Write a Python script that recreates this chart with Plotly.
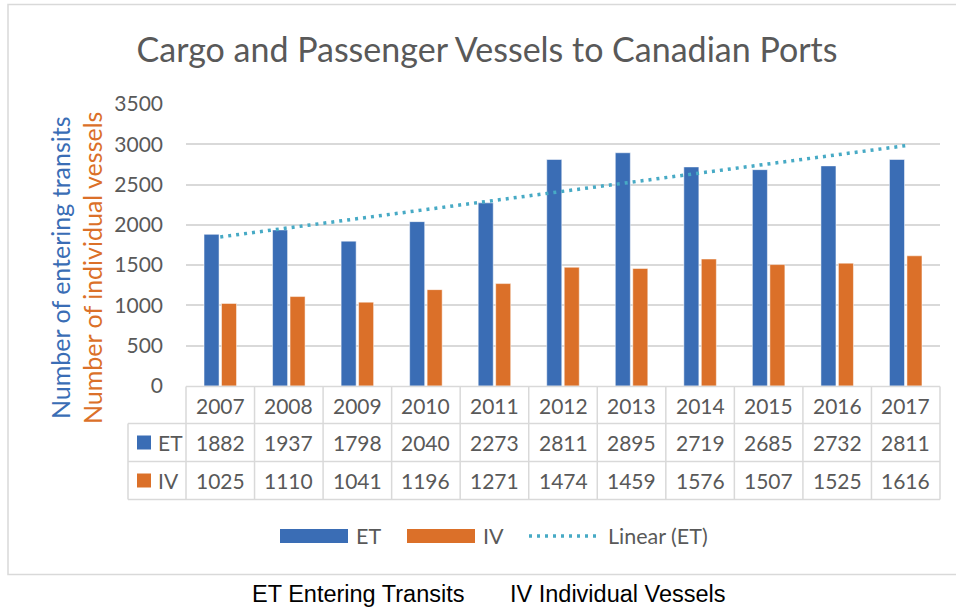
import numpy as np
import plotly.graph_objects as go

years = ["2007", "2008", "2009", "2010", "2011", "2012", "2013", "2014", "2015", "2016", "2017"]
et_values = [1882, 1937, 1798, 2040, 2273, 2811, 2895, 2719, 2685, 2732, 2811]
iv_values = [1025, 1110, 1041, 1196, 1271, 1474, 1459, 1576, 1507, 1525, 1616]
series_names = ["ET", "IV"]
y_ticks = [0, 500, 1000, 1500, 2000, 2500, 3000, 3500]

BLUE = "#3A6DB5"
ORANGE = "#DB7029"
TREND = "#47AAC5"
GRID = "#D9D9D9"
TXT = "#595959"
FONT = "Lato"

W, H = 956, 607
L, R, T, B = 186, 940, 104, 386


def px(x):
    return (x - L) / (R - L)


def py(y):
    return (B - y) / (B - T)


# Excel-style linear trendline fitted to ET
xi = np.arange(len(years))
slope, intercept = np.polyfit(xi, et_values, 1)
trend = intercept + slope * xi

fig = go.Figure()
fig.add_trace(go.Bar(x=years, y=et_values, name="ET", marker=dict(color=BLUE, line=dict(color="rgba(255,255,255,0.5)", width=1))))
fig.add_trace(go.Bar(x=years, y=iv_values, name="IV", marker=dict(color=ORANGE, line=dict(color="rgba(255,255,255,0.5)", width=1))))
fig.add_trace(go.Scatter(x=[years[0], years[-1]], y=[trend[0], trend[-1]], mode="lines", name="Linear (ET)",
                         line=dict(color=TREND, width=3.5, dash="3px,5px")))

shapes = []
annotations = []

# outer chart border
shapes.append(dict(type="rect", xref="paper", yref="paper", x0=px(8), x1=px(965), y0=py(574.5), y1=py(4.5),
                   line=dict(color=GRID, width=1.5), layer="below"))

# data table grid
ncat = len(years)
line_style = dict(color=GRID, width=1.5)
row_y = [386.5, 423.5, 461.5, 499.5]
for k in range(ncat + 1):
    shapes.append(dict(type="line", xref="paper", yref="paper", x0=k / ncat, x1=k / ncat,
                       y0=py(row_y[0]), y1=py(row_y[-1]), line=line_style))
shapes.append(dict(type="line", xref="paper", yref="paper", x0=px(128), x1=px(128),
                   y0=py(row_y[1]), y1=py(row_y[-1]), line=line_style))
shapes.append(dict(type="line", xref="paper", yref="paper", x0=0, x1=1,
                   y0=py(row_y[0]), y1=py(row_y[0]), line=line_style))
for ry in row_y[1:]:
    shapes.append(dict(type="line", xref="paper", yref="paper", x0=px(128), x1=1,
                       y0=py(ry), y1=py(ry), line=line_style))

cell_font = dict(family=FONT, size=21, color=TXT)
row_centers = [405, 442.5, 480.5]
for i, yr in enumerate(years):
    for text, cy in [(yr, row_centers[0]), (str(et_values[i]), row_centers[1]), (str(iv_values[i]), row_centers[2])]:
        annotations.append(dict(x=i, xref="x", y=py(cy), yref="paper", text=text,
                                showarrow=False, font=cell_font, xanchor="center", yanchor="middle"))

# table legend keys
for name, color, cy in [(series_names[0], BLUE, row_centers[1]), (series_names[1], ORANGE, row_centers[2])]:
    shapes.append(dict(type="rect", xref="paper", yref="paper", x0=px(137), x1=px(151),
                       y0=py(cy + 7), y1=py(cy - 7), fillcolor=color, line=dict(width=0)))
    annotations.append(dict(x=px(156), xref="paper", y=py(cy), yref="paper", text=name, showarrow=False,
                            font=cell_font, xanchor="left", yanchor="middle"))

# bottom legend
leg_y = 536
leg_font = dict(family=FONT, size=21.5, color=TXT)
shapes.append(dict(type="rect", xref="paper", yref="paper", x0=px(280), x1=px(348), y0=py(543), y1=py(529),
                   fillcolor=BLUE, line=dict(width=0)))
annotations.append(dict(x=px(354), xref="paper", y=py(leg_y), yref="paper", text="ET", showarrow=False,
                        font=leg_font, xanchor="left", yanchor="middle"))
shapes.append(dict(type="rect", xref="paper", yref="paper", x0=px(407), x1=px(475), y0=py(543), y1=py(529),
                   fillcolor=ORANGE, line=dict(width=0)))
annotations.append(dict(x=px(481), xref="paper", y=py(leg_y), yref="paper", text="IV", showarrow=False,
                        font=leg_font, xanchor="left", yanchor="middle"))
shapes.append(dict(type="line", xref="paper", yref="paper", x0=px(529), x1=px(600), y0=py(leg_y), y1=py(leg_y),
                   line=dict(color=TREND, width=3.5, dash="3px,5px")))
annotations.append(dict(x=px(606), xref="paper", y=py(leg_y), yref="paper", text="Linear (ET)", showarrow=False,
                        font=leg_font, xanchor="left", yanchor="middle"))

# axis titles
annotations.append(dict(x=px(60), xref="paper", y=py(268), yref="paper", text="Number of entering transits",
                        textangle=-90, showarrow=False, font=dict(family=FONT, size=25, color=BLUE),
                        xanchor="center", yanchor="middle"))
annotations.append(dict(x=px(92), xref="paper", y=py(268), yref="paper", text="Number of individual vessels",
                        textangle=-90, showarrow=False, font=dict(family=FONT, size=25, color=ORANGE),
                        xanchor="center", yanchor="middle"))

# caption below chart
cap_font = dict(family="Liberation Sans, Arial", size=23.5, color="#000000")
annotations.append(dict(x=px(250), xref="paper", y=py(594), yref="paper", text="ET Entering Transits",
                        showarrow=False, font=cap_font, xanchor="left", yanchor="middle"))
annotations.append(dict(x=px(508), xref="paper", y=py(594), yref="paper", text="IV Individual Vessels",
                        showarrow=False, font=cap_font, xanchor="left", yanchor="middle"))

fig.update_layout(
    width=W, height=H,
    margin=dict(l=L, r=W - R, t=T, b=H - B, pad=0),
    paper_bgcolor="white", plot_bgcolor="white",
    title=dict(text="Cargo and Passenger Vessels to Canadian Ports", x=487 / W, xanchor="center",
               xref="container", y=(H - 50) / H, yanchor="middle", yref="container",
               font=dict(family=FONT, size=34, color=TXT)),
    showlegend=False,
    barmode="group", bargap=0.49, bargroupgap=0.14,
    xaxis=dict(type="category", range=[-0.5, ncat - 0.5], showticklabels=False, showgrid=False,
               zeroline=False, showline=False, ticks=""),
    yaxis=dict(range=[0, 3500], tickvals=y_ticks, showgrid=True, gridcolor=GRID, gridwidth=1.5,
               zeroline=False, showline=False, ticks="", ticklabelstandoff=22,
               tickfont=dict(family=FONT, size=21, color=TXT)),
    shapes=shapes, annotations=annotations,
)

fig.write_html("out.html", config={"displayModeBar": False},
               post_script="document.body.style.margin='0px';")
